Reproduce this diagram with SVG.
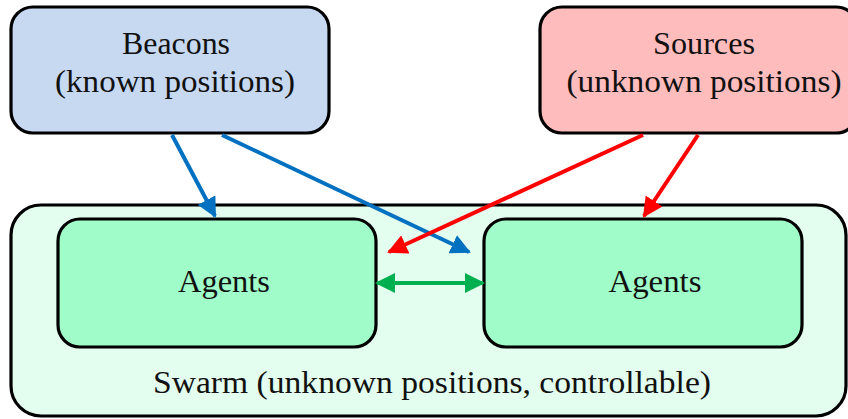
<svg xmlns="http://www.w3.org/2000/svg" width="848" height="419" viewBox="0 0 848 419">
  <defs>
    <marker id="headBlue" viewBox="0 0 10 10" refX="9" refY="5" markerWidth="5" markerHeight="5" markerUnits="strokeWidth" orient="auto-start-reverse">
      <path d="M0,0 L10,5 L0,10 Z" fill="#0070C0"/>
    </marker>
    <marker id="headRed" viewBox="0 0 10 10" refX="9" refY="5" markerWidth="5" markerHeight="5" markerUnits="strokeWidth" orient="auto-start-reverse">
      <path d="M0,0 L10,5 L0,10 Z" fill="#FF0000"/>
    </marker>
    <marker id="headGreen" viewBox="0 0 10 10" refX="9" refY="5" markerWidth="5" markerHeight="5" markerUnits="strokeWidth" orient="auto-start-reverse">
      <path d="M0,0 L10,5 L0,10 Z" fill="#00B050"/>
    </marker>
  </defs>
  <style>
    .box { stroke: #000; stroke-width: 3.2; }
    .label { font-family: "Liberation Serif", "DejaVu Serif", serif; font-size: 31px; fill: #111; text-anchor: middle; }
    .link { fill: none; stroke-width: 4; }
  </style>

  <rect width="848" height="419" fill="#ffffff"/>

  <g id="swarm">
    <rect class="box" x="11" y="205" width="835" height="211" rx="30" ry="30" fill="#E3FDEF"/>
    <text class="label" x="432" y="393" textLength="558" lengthAdjust="spacingAndGlyphs">Swarm (unknown positions, controllable)</text>
  </g>

  <g id="beacons">
    <rect class="box" x="11" y="7" width="318" height="126" rx="22" ry="22" fill="#C6D9F1"/>
    <text class="label" x="176" y="54" textLength="108" lengthAdjust="spacingAndGlyphs">Beacons</text>
    <text class="label" x="175" y="92" textLength="240" lengthAdjust="spacingAndGlyphs">(known positions)</text>
  </g>

  <g id="sources">
    <rect class="box" x="540" y="7" width="318" height="126" rx="22" ry="22" fill="#FFBCBC"/>
    <text class="label" x="704" y="54" textLength="102" lengthAdjust="spacingAndGlyphs">Sources</text>
    <text class="label" x="704" y="92" textLength="275" lengthAdjust="spacingAndGlyphs">(unknown positions)</text>
  </g>

  <g id="agents-left">
    <rect class="box" x="58" y="219" width="318" height="128" rx="22" ry="22" fill="#A0FCC8"/>
    <text class="label" x="224" y="292" textLength="92" lengthAdjust="spacingAndGlyphs">Agents</text>
  </g>

  <g id="agents-right">
    <rect class="box" x="484" y="219" width="318" height="128" rx="22" ry="22" fill="#A0FCC8"/>
    <text class="label" x="655" y="292" textLength="93" lengthAdjust="spacingAndGlyphs">Agents</text>
  </g>

  <g id="connectors">
    <line class="link" x1="172" y1="135" x2="215" y2="216" stroke="#0070C0" marker-end="url(#headBlue)"/>
    <line class="link" x1="222" y1="135" x2="469" y2="252" stroke="#0070C0" marker-end="url(#headBlue)"/>
    <line class="link" x1="643" y1="135" x2="389" y2="252" stroke="#FF0000" marker-end="url(#headRed)"/>
    <line class="link" x1="698" y1="135" x2="644" y2="216" stroke="#FF0000" marker-end="url(#headRed)"/>
    <line class="link" x1="377" y1="283" x2="483" y2="283" stroke="#00B050" marker-start="url(#headGreen)" marker-end="url(#headGreen)"/>
  </g>
</svg>
